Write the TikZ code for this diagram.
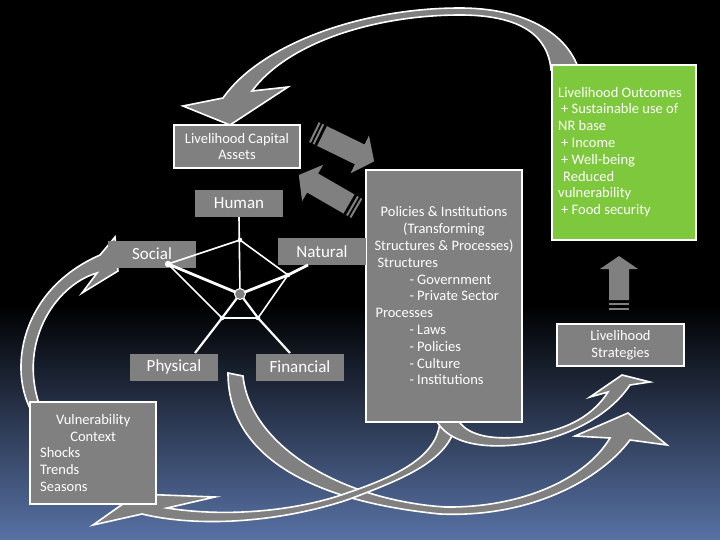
\documentclass[tikz,border=0pt]{standalone}
\usepackage{fontspec}
\setmainfont{Carlito}
\definecolor{boxgray}{RGB}{128,128,128}
\definecolor{outgreen}{RGB}{125,200,60}
\definecolor{bgblue}{RGB}{88,114,165}
\newcommand\boxfnt{\fontsize{14.5}{16.8}\selectfont}
\newcommand\labfnt{\fontsize{17}{20}\selectfont}
\tikzset{
  arr/.style={fill=boxgray, draw=white, line width=1.6pt, line join=miter},
  wbox/.style={fill=boxgray, draw=white, line width=1.6pt, text=white, font=\boxfnt, inner sep=0pt},
  lab/.style={fill=boxgray, text=white, font=\labfnt, minimum width=88pt, minimum height=27pt, inner sep=0pt},
  spoke/.style={draw=white, line width=2.2pt},
  pedge/.style={draw=white, line width=1.6pt},
  wtext/.style={text=white, font=\boxfnt, inner sep=0pt},
  stripearrow/.style={fill=boxgray},
}
\begin{document}
\begin{tikzpicture}[x=1pt,y=-1pt]
\useasboundingbox (0,0) rectangle (720,540);
% background
\fill[black] (0,0) rectangle (720,540);
\shade[top color=black, bottom color=bgblue] (0,305) rectangle (720,540);

% top curved arrow (outcomes -> capital assets)
\path[arr] (579,70) .. controls (566,30) and (520,8) .. (460,8)
  .. controls (360,8) and (260,45) .. (223,98) -- (183,106) -- (230,125) -- (288,87) -- (252,91)
  .. controls (290,40) and (380,15) .. (460,15)
  .. controls (520,15) and (548,35) .. (551,70) -- cycle;

% left curved arrow (vulnerability -> social)
\path[arr] (32,412) .. controls (8,370) and (20,290) .. (100,255) -- (115,237) -- (118,271) -- (82,293) -- (97,273)
  .. controls (55,285) and (15,345) .. (42,412) -- cycle;

% bottom arrow A (assets -> strategies)
\path[arr] (228,373) .. controls (228,450) and (300,500) .. (440,514)
  .. controls (530,518) and (600,480) .. (630,440) -- (667,445) -- (628,413) -- (575,436) -- (610,438)
  .. controls (585,480) and (520,508) .. (445,507)
  .. controls (340,500) and (250,445) .. (243,376) -- cycle;

% bottom arrow B (policies -> vulnerability)
\path[arr] (456,418) .. controls (455,460) and (400,480) .. (347,500)
  .. controls (280,522) and (200,528) .. (142,514) -- (93,525) -- (137,494) -- (215,497) -- (167,508)
  .. controls (230,518) and (300,510) .. (347,493)
  .. controls (400,475) and (440,455) .. (440,418) -- cycle;

% bottom arrow C (policies -> strategies)
\path[arr] (435,418) .. controls (450,450) and (500,448) .. (530,443)
  .. controls (570,436) and (610,415) .. (630,385) -- (650,382) -- (622,375) -- (590,397) -- (608,392)
  .. controls (590,420) and (560,432) .. (520,437)
  .. controls (490,440) and (465,435) .. (457,418) -- cycle;

% striped double arrows
\begin{scope}[shift={(322,136)}, rotate=-26]
  \fill[stripearrow] (0,-11) -- (42,-11) -- (42,-21) -- (58,0) -- (42,21) -- (42,11) -- (0,11) -- cycle;
  \fill[stripearrow] (-5,-11) rectangle (-3,11);
  \fill[stripearrow] (-9,-11) rectangle (-7,11);
\end{scope}
\begin{scope}[shift={(349,204)}, rotate=150]
  \fill[stripearrow] (0,-11) -- (42,-11) -- (42,-21) -- (58,0) -- (42,21) -- (42,11) -- (0,11) -- cycle;
  \fill[stripearrow] (-5,-11) rectangle (-3,11);
  \fill[stripearrow] (-9,-11) rectangle (-7,11);
\end{scope}

% up arrow strategies -> outcomes
\fill[boxgray] (619,256) -- (638,269) -- (629,269) -- (629,300) -- (609,300) -- (609,269) -- (600,269) -- cycle;
\fill[boxgray] (609,302.5) rectangle (629,305);
\fill[boxgray] (609,307.5) rectangle (629,310);

% boxes
\node[wbox, minimum width=126pt, minimum height=43pt, align=center] (lca) at (237,146.5) {Livelihood Capital\\Assets};

\node[wbox, minimum width=156pt, minimum height=252pt] (pol) at (444,296) {};
\node[wtext, align=left] (poltext) at (pol.center) {%
\makebox[141pt][c]{Policies \& Institutions}\\
\makebox[141pt][c]{(Transforming}\\
\makebox[141pt][c]{Structures \& Processes)}\\
\hspace*{4pt}Structures\\
\hspace*{36pt}- Government\\
\hspace*{36pt}- Private Sector\\
\hspace*{2pt}Processes\\
\hspace*{36pt}- Laws\\
\hspace*{36pt}- Policies\\
\hspace*{36pt}- Culture\\
\hspace*{36pt}- Institutions};

\node[wbox, fill=outgreen, minimum width=144pt, minimum height=175pt] (out) at (624,152.5) {};
\node[wtext, align=left, anchor=west] (outtext) at (558,152) {%
Livelihood Outcomes\\
\hspace*{3pt}+ Sustainable use of\\
NR base\\
\hspace*{3pt}+ Income\\
\hspace*{3pt}+ Well-being\\
\hspace*{5pt}Reduced\\
vulnerability\\
\hspace*{3pt}+ Food security};

\node[wbox, minimum width=127pt, minimum height=42pt, align=center] (strat) at (620.5,345) {Livelihood\\Strategies};

\node[wbox, minimum width=126pt, minimum height=102pt] (vul) at (93,453) {};
\node[wtext, align=left, anchor=west] (vultext) at (40,453) {%
\makebox[106pt][c]{Vulnerability}\\
\makebox[106pt][c]{Context}\\
Shocks\\
Trends\\
Seasons};

% pentagon labels
\node[lab] (human) at (239,203.5) {Human};
\node[lab] (social) at (152,254) {Social};
\node[lab] (natural) at (322,251.5) {Natural};
\node[lab] (physical) at (174,367) {Physical};
\node[lab] (financial) at (300,367) {Financial};

% pentagon
\coordinate (pc) at (240,294);
\coordinate (pt) at (240,240);
\coordinate (pr) at (288,275);
\coordinate (pbr) at (258,318);
\coordinate (pbl) at (222,318);
\coordinate (pl) at (168,264);
\coordinate (natend) at (308,265);
\coordinate (phyend) at (195,353);
\coordinate (finend) at (290,353);

\draw[pedge] (pl) -- (pt) -- (pr) -- (pbr) -- (pbl) -- cycle;
\draw[white, line width=1.6pt] (human.south) -- (pc);
\draw[spoke, line width=2.8pt] (pl) -- (pc) -- (pr) -- (natend);
\draw[spoke] (pc) -- (pbl) -- (phyend);
\draw[spoke] (pc) -- (pbr) -- (finend);
\node[circle, fill=boxgray, draw=white, line width=1pt, minimum size=11pt, inner sep=0pt] (pcdot) at (pc) {};
\foreach \p in {pt,pr,pbr,pbl}{\fill[white] (\p) circle (2.3pt);}
\fill[white] (pl) circle (3.2pt);
\end{tikzpicture}
\end{document}
